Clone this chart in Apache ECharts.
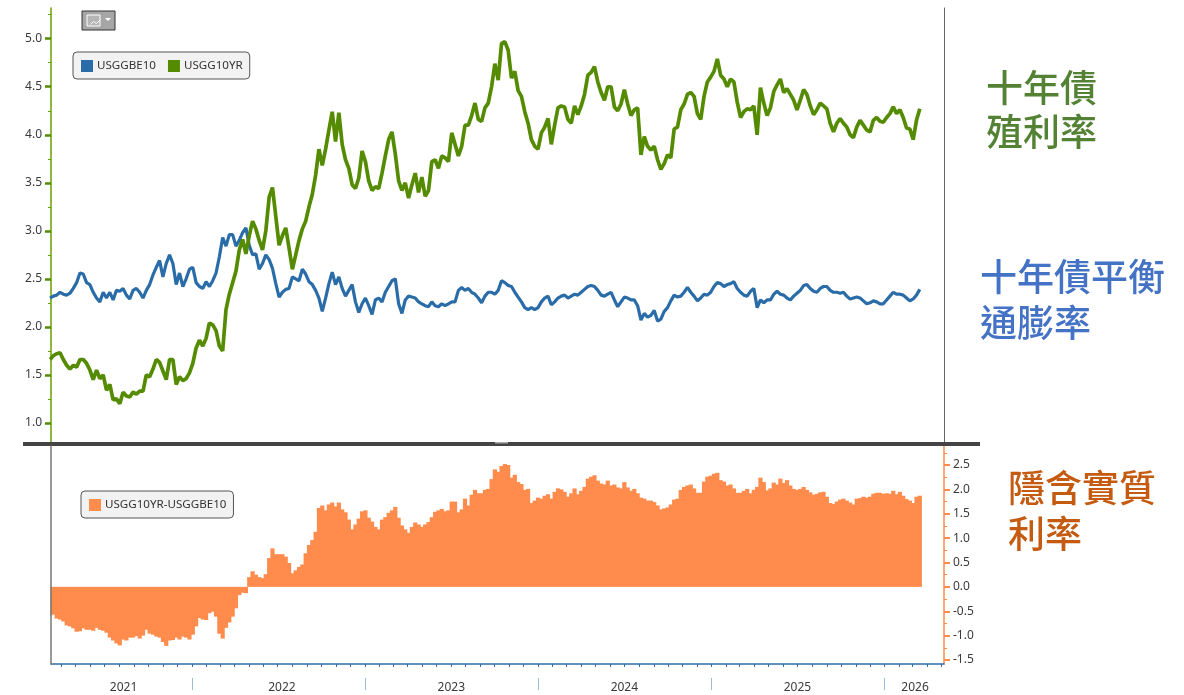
<!DOCTYPE html>
<html><head><meta charset="utf-8">
<style>html,body{margin:0;padding:0;background:#fff}#c{width:1184px;height:695px}</style>
<script src="https://cdn.jsdelivr.net/npm/echarts@6/dist/echarts.min.js"></script>
</head><body><div id="c"></div>
<script>
// Weekly readings, first point on 2021-03-08
const firstDate = '2021-03-08';
const usggbe10 = [
2.30,2.32,2.33,2.36,2.34,2.33,2.35,2.40,2.46,2.56,2.55,2.46,2.44,2.36,2.30,2.26,2.36,2.30,2.36,2.28,
2.38,2.37,2.40,2.33,2.29,2.38,2.40,2.36,2.30,2.38,2.44,2.54,2.62,2.69,2.52,2.66,2.75,2.66,2.44,2.56,
2.42,2.50,2.60,2.62,2.46,2.42,2.40,2.47,2.42,2.48,2.56,2.73,2.93,2.84,2.96,2.96,2.84,2.90,2.98,3.03,
2.85,2.75,2.76,2.60,2.66,2.75,2.70,2.61,2.45,2.31,2.36,2.39,2.40,2.52,2.50,2.48,2.60,2.55,2.47,2.44,
2.38,2.30,2.16,2.30,2.45,2.57,2.44,2.52,2.40,2.32,2.38,2.44,2.26,2.15,2.24,2.30,2.22,2.13,2.28,2.30,
2.26,2.36,2.42,2.48,2.50,2.24,2.14,2.28,2.32,2.31,2.30,2.26,2.24,2.22,2.21,2.26,2.22,2.21,2.24,2.22,
2.24,2.26,2.26,2.38,2.41,2.38,2.40,2.36,2.34,2.30,2.25,2.32,2.36,2.36,2.34,2.38,2.48,2.46,2.43,2.42,
2.36,2.31,2.26,2.20,2.18,2.20,2.18,2.20,2.26,2.30,2.32,2.23,2.26,2.30,2.32,2.33,2.30,2.32,2.34,2.33,
2.36,2.39,2.42,2.43,2.42,2.38,2.33,2.32,2.34,2.36,2.28,2.21,2.26,2.31,2.30,2.28,2.28,2.22,2.07,2.14,
2.10,2.12,2.17,2.06,2.08,2.16,2.20,2.27,2.33,2.31,2.32,2.36,2.41,2.36,2.32,2.27,2.30,2.34,2.33,2.36,
2.42,2.46,2.45,2.42,2.44,2.45,2.47,2.40,2.36,2.33,2.32,2.37,2.40,2.20,2.28,2.25,2.28,2.28,2.34,2.37,
2.34,2.33,2.30,2.28,2.32,2.35,2.38,2.43,2.44,2.40,2.37,2.36,2.40,2.42,2.42,2.38,2.36,2.36,2.35,2.36,
2.32,2.29,2.30,2.31,2.30,2.27,2.24,2.25,2.27,2.26,2.24,2.24,2.28,2.32,2.36,2.34,2.34,2.33,2.30,2.27,
2.29,2.33,2.39];
const usgg10yr = [
1.66,1.70,1.72,1.73,1.66,1.60,1.56,1.60,1.58,1.66,1.66,1.62,1.55,1.45,1.55,1.46,1.50,1.34,1.40,1.24,
1.25,1.20,1.32,1.28,1.27,1.32,1.30,1.33,1.33,1.50,1.48,1.56,1.66,1.63,1.54,1.45,1.66,1.66,1.40,1.48,
1.44,1.46,1.52,1.62,1.78,1.86,1.80,1.88,2.04,2.02,1.96,1.80,1.75,2.18,2.34,2.46,2.58,2.80,2.91,2.76,
2.95,3.10,3.02,2.90,2.80,3.00,3.35,3.45,3.15,2.85,2.95,3.03,2.82,2.60,2.75,2.90,3.02,3.10,3.25,3.38,
3.58,3.85,3.68,3.85,4.05,4.24,3.93,4.23,3.90,3.74,3.65,3.48,3.44,3.55,3.83,3.72,3.52,3.42,3.46,3.44,
3.60,3.78,3.95,4.03,3.80,3.52,3.42,3.50,3.34,3.48,3.60,3.40,3.56,3.36,3.42,3.72,3.74,3.65,3.78,3.76,
3.72,4.02,3.90,3.78,3.88,4.10,4.10,4.20,4.33,4.16,4.14,4.28,4.33,4.50,4.74,4.57,4.95,4.97,4.88,4.59,
4.66,4.46,4.40,4.24,4.12,3.95,3.88,3.85,4.02,4.08,4.17,3.90,4.10,4.28,4.30,4.29,4.16,4.12,4.30,4.21,
4.30,4.42,4.62,4.65,4.71,4.55,4.44,4.36,4.50,4.50,4.29,4.25,4.32,4.47,4.32,4.20,4.26,4.28,3.79,3.98,
3.88,3.84,3.88,3.74,3.64,3.70,3.79,3.76,4.06,4.08,4.26,4.32,4.42,4.44,4.40,4.22,4.16,4.40,4.55,4.60,
4.66,4.79,4.62,4.58,4.50,4.58,4.55,4.34,4.18,4.24,4.27,4.26,4.30,4.00,4.49,4.33,4.20,4.28,4.45,4.52,
4.58,4.44,4.48,4.42,4.36,4.26,4.36,4.47,4.42,4.30,4.21,4.26,4.33,4.30,4.27,4.12,4.03,4.12,4.17,4.12,
4.08,4.00,3.97,4.08,4.15,4.10,4.05,4.03,4.15,4.18,4.14,4.13,4.18,4.22,4.29,4.22,4.26,4.18,4.07,4.06,
3.95,4.15,4.27];
const realYield = [
-0.59,-0.57,-0.65,-0.67,-0.71,-0.79,-0.81,-0.85,-0.92,-0.91,-0.85,-0.88,-0.88,-0.90,-0.84,-0.88,-0.90,-0.94,-1.04,-1.10,
-1.16,-1.20,-1.08,-1.10,-1.04,-1.04,-1.01,-1.06,-1.00,-0.88,-0.96,-0.98,-1.02,-1.04,-1.13,-1.21,-1.10,-1.09,-1.04,-1.08,
-1.02,-1.04,-1.08,-0.98,-0.81,-0.64,-0.67,-0.68,-0.54,-0.51,-0.61,-0.96,-1.06,-0.84,-0.73,-0.61,-0.44,-0.17,-0.12,-0.13,
0.20,0.32,0.25,0.20,0.18,0.26,0.59,0.79,0.67,0.67,0.67,0.62,0.49,0.28,0.34,0.41,0.46,0.69,0.86,0.96,
1.13,1.62,1.67,1.57,1.69,1.73,1.65,1.73,1.59,1.53,1.38,1.18,1.28,1.40,1.55,1.57,1.42,1.34,1.23,1.18,
1.38,1.43,1.52,1.57,1.64,1.42,1.26,1.18,1.11,1.23,1.32,1.28,1.23,1.28,1.33,1.43,1.54,1.57,1.60,1.55,
1.57,1.75,1.75,1.53,1.59,1.81,1.67,1.89,1.99,1.92,1.92,1.99,2.01,2.21,2.41,2.36,2.48,2.52,2.50,2.24,
2.30,2.15,2.11,1.99,2.01,1.72,1.77,1.83,1.81,1.87,1.90,1.81,1.95,2.02,2.00,1.95,1.85,1.92,2.02,1.90,
1.97,2.05,2.22,2.26,2.29,2.18,2.12,2.10,2.18,2.08,2.10,2.04,2.02,2.15,2.04,1.97,2.01,1.92,1.83,1.81,
1.77,1.77,1.74,1.67,1.59,1.61,1.63,1.69,1.79,1.81,1.99,2.05,2.08,2.10,2.02,1.93,1.93,2.16,2.26,2.28,
2.32,2.34,2.19,2.16,2.08,2.10,2.02,1.93,1.93,1.97,2.01,1.92,1.99,2.05,2.24,2.15,1.98,2.02,2.14,2.10,
2.22,2.13,2.19,2.08,2.01,1.99,2.01,2.05,1.99,1.94,1.89,1.91,1.94,1.95,1.85,1.72,1.70,1.75,1.79,1.81,
1.77,1.73,1.69,1.81,1.82,1.85,1.83,1.85,1.91,1.93,1.93,1.91,1.92,1.91,1.97,1.90,1.95,1.87,1.80,1.77,
1.72,1.85,1.87];
const topTicks = [1.0,1.5,2.0,2.5,3.0,3.5,4.0,4.5,5.0];
const topMinor = [1.25,1.75,2.25,2.75,3.25,3.75,4.25,4.75,5.25];
const bottomTicks = [-1.5,-1.0,-0.5,0.0,0.5,1.0,1.5,2.0,2.5];
const bottomMinor = [-1.25,-0.75,-0.25,0.25,0.75,1.25,1.75,2.25,2.75];
const yearLabels = [['2021','2021-08-10'],['2022','2022-07-10'],['2023','2023-07-02'],['2024','2024-07-01'],['2025','2025-07-01'],['2026','2026-03-06']];
const yearEdges = ['2022-01-01','2023-01-01','2024-01-01','2025-01-01','2026-01-01'];

const ms = s => +new Date(s + 'T00:00:00');
const xMin = ms('2021-03-10'), xMax = ms('2026-05-06');
const WEEK = 7*864e5;
const withDates = arr => arr.map((v,i) => [ms(firstDate) + i*WEEK, v]);
const months = [];
for (let y=2021;y<=2026;y++) for (let m=0;m<12;m++){ const t=+new Date(y,m,1); if(t>=xMin&&t<=xMax) months.push(t); }
const yearMap = {}; yearLabels.forEach(d => yearMap[ms(d[1])] = d[0]);

const GREEN='#558b00', BLUE='#2a6ca8', ORANGE='#ff8c4d', AXG='#63a000', TXT='#3a3a3a', FONT='"Noto Sans",sans-serif';
const CJK='"Noto Sans CJK TC",sans-serif';
const chart = echarts.init(document.getElementById('c'),null,{renderer:'canvas'});
const big = (x,y,t,c)=>({type:'text',left:x,top:y,silent:true,style:{text:t,fill:c,font:'500 37px '+CJK}});
const legendBase = {icon:'rect',itemWidth:12,itemHeight:12,padding:[8,7,7,8],backgroundColor:'#f2f2f2',borderColor:'#555',borderWidth:1,borderRadius:4,textStyle:{fontFamily:FONT,fontSize:11.6,color:'#333',padding:[0,0,0,-1]}};
const YT={min:0.78,max:5.32}, YB={min:-1.582,max:2.89};
chart.setOption({
  animation:false, backgroundColor:'#fff',
  grid:[{left:51,top:8,width:893,height:436},{left:51,top:446,width:893,height:218}],
  legend:[
   Object.assign({left:73,top:52,data:['USGGBE10','USGG10YR'],itemGap:12},legendBase),
   Object.assign({left:81,top:491,data:['USGG10YR-USGGBE10']},legendBase)
  ],
  xAxis:[
   {gridIndex:0,type:'value',min:xMin,max:xMax,show:false},
   {gridIndex:1,type:'value',min:xMin,max:xMax,position:'bottom',
    axisLine:{show:true,onZero:false,lineStyle:{color:'#2f6eaa',width:1.5}},
    axisTick:{show:true,customValues:months,length:3,lineStyle:{color:'#2f6eaa',width:1}},
    axisLabel:{show:true,customValues:yearLabels.map(d=>ms(d[1])),formatter:v=>yearMap[v]||'',margin:18,fontFamily:FONT,fontSize:12,color:TXT,hideOverlap:false},
    splitLine:{show:false}},
   {gridIndex:1,type:'value',min:xMin,max:xMax,position:'bottom',offset:14,
    axisLine:{show:false,onZero:false},
    axisTick:{show:true,customValues:yearEdges.map(ms),length:12,lineStyle:{color:'#9dbbd8',width:1}},
    axisLabel:{show:false},splitLine:{show:false}}
  ],
  yAxis:[
   Object.assign({gridIndex:0,type:'value',position:'left',
    axisLine:{show:true,onZero:false,lineStyle:{color:AXG,width:1.5}},
    axisTick:{show:true,customValues:topTicks,length:6,lineStyle:{color:GREEN,width:2.5}},
    axisLabel:{show:true,customValues:topTicks,formatter:v=>v.toFixed(1),margin:9,fontFamily:FONT,fontSize:12,color:TXT},
    splitLine:{show:false}},YT),
   Object.assign({gridIndex:0,type:'value',position:'left',
    axisLine:{show:false,onZero:false},axisTick:{show:true,customValues:topMinor,length:3,lineStyle:{color:AXG,width:1}},
    axisLabel:{show:false},splitLine:{show:false}},YT),
   Object.assign({gridIndex:0,type:'value',position:'right',
    axisLine:{show:true,onZero:false,lineStyle:{color:'#666',width:1}},axisTick:{show:false},axisLabel:{show:false},splitLine:{show:false}},YT),
   Object.assign({gridIndex:1,type:'value',position:'right',
    axisLine:{show:true,onZero:false,lineStyle:{color:ORANGE,width:1.5}},
    axisTick:{show:true,customValues:bottomTicks,length:6,lineStyle:{color:ORANGE,width:2}},
    axisLabel:{show:true,customValues:bottomTicks,formatter:v=>v.toFixed(1),margin:9,fontFamily:FONT,fontSize:12,color:TXT},
    splitLine:{show:false}},YB),
   Object.assign({gridIndex:1,type:'value',position:'right',
    axisLine:{show:false,onZero:false},axisTick:{show:true,customValues:bottomMinor,length:3,lineStyle:{color:ORANGE,width:1}},
    axisLabel:{show:false},splitLine:{show:false}},YB),
   Object.assign({gridIndex:1,type:'value',position:'left',z:30,
    axisLine:{show:true,onZero:false,lineStyle:{color:'#777',width:1.5}},axisTick:{show:false},axisLabel:{show:false},splitLine:{show:false}},YB)
  ],
  series:[
   {name:'USGGBE10',type:'line',xAxisIndex:0,yAxisIndex:0,data:withDates(usggbe10),showSymbol:false,symbol:'none',lineStyle:{color:BLUE,width:3.2},itemStyle:{color:BLUE},z:3},
   {name:'USGG10YR',type:'line',xAxisIndex:0,yAxisIndex:0,data:withDates(usgg10yr),showSymbol:false,symbol:'none',lineStyle:{color:GREEN,width:3.7},itemStyle:{color:GREEN},z:4},
   {name:'USGG10YR-USGGBE10',type:'bar',xAxisIndex:1,yAxisIndex:3,barWidth:4.2,data:withDates(realYield),itemStyle:{color:ORANGE},z:3}
  ],
  graphic:[
   {type:'rect',left:44,top:447,shape:{width:6.3,height:217},style:{fill:'#fff'},silent:true,z:15},
   {type:'rect',left:23,top:442,shape:{width:957,height:4},style:{fill:'#444'},silent:true,z:20},
   {type:'rect',left:495,top:442,shape:{width:13,height:1.5},style:{fill:'#aaa'},silent:true,z:21},
   {type:'rect',left:81.5,top:10.5,shape:{width:33,height:19},style:{fill:'#a6a6a6',stroke:'#333',lineWidth:1},silent:true,z:20},
   {type:'rect',left:86.5,top:14.5,shape:{width:13,height:11},style:{fill:'#b5b5b5',stroke:'#fff',lineWidth:1},silent:true,z:21},
   {type:'polyline',left:88,top:17,shape:{points:[[0,6],[3,3],[6,5],[10,1]]},style:{stroke:'#fff',fill:null,lineWidth:1},silent:true,z:22},
   {type:'polygon',left:105,top:18,shape:{points:[[0,0],[6,0],[3,3]]},style:{fill:'#fff'},silent:true,z:22},
   big(986,69,'十年債','#548235'), big(986,113,'殖利率','#548235'),
   big(980,258,'十年債平衡','#4472c4'), big(980,304,'通膨率','#4472c4'),
   big(1008,469,'隱含實質','#c55a11'), big(1008,515,'利率','#c55a11')
  ]
});
</script></body></html>
